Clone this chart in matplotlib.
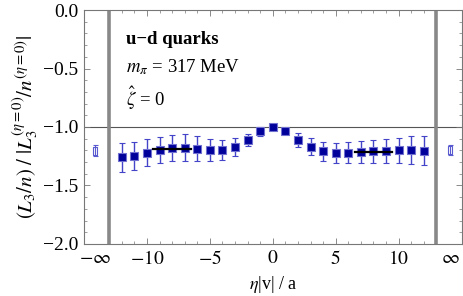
import matplotlib
matplotlib.use("Agg")
import matplotlib.pyplot as plt
import numpy as np

plt.rcParams['font.family'] = ['Liberation Serif', 'DejaVu Serif']
plt.rcParams['mathtext.fontset'] = 'stix'

# data
eta = [-12, -11, -10, -9, -8, -7, -6, -5, -4, -3, -2, -1, 0, 1, 2, 3, 4, 5, 6, 7, 8, 9, 10, 11, 12]
vals = [-1.259, -1.248, -1.220, -1.197, -1.180, -1.176, -1.185, -1.197, -1.197, -1.171, -1.111, -1.037,
        -1.000, -1.037, -1.110, -1.168, -1.208, -1.219, -1.219, -1.211, -1.208, -1.208, -1.200, -1.197, -1.202]
errs = [0.125, 0.120, 0.115, 0.110, 0.110, 0.112, 0.104, 0.095, 0.085, 0.074, 0.052, 0.040,
        0.012, 0.025, 0.057, 0.071, 0.080, 0.085, 0.092, 0.095, 0.100, 0.102, 0.106, 0.118, 0.126]
inf_pos = [-14.1, 14.1]
inf_vals = [-1.202, -1.197]
inf_errs = [0.046, 0.042]
fit_left_x = [-9.5, -6.5]
fit_left_y = -1.185
fit_right_x = [6.5, 9.5]
fit_right_y = -1.213
cut_lines = [-13, 13]
xtick_pos = [-14.1, -10, -5, 0, 5, 10, 14.1]
xtick_labels = ['$-\\infty$', '$-10$', '$-5$', '$0$', '$5$', '$10$', '$\\infty$']
ytick_pos = [0.0, -0.5, -1.0, -1.5, -2.0]
ytick_labels = ['0.0', '\u22120.5', '\u22121.0', '\u22121.5', '\u22122.0']

fig = plt.figure(figsize=(4.63, 2.96), dpi=100)
ax = fig.add_axes([0.1814, 0.1757, 0.8155, 0.7905])

ax.set_xlim(-15, 15)
ax.set_ylim(-2.0, 0.0)

ax.axhline(-1.0, color='#555555', lw=0.8, zorder=1)
for c in cut_lines:
    ax.axvline(c, color='#888888', lw=2.6, zorder=1)

ax.errorbar(eta, vals, yerr=errs, fmt='s', color='#00009a', ms=5.6, mec='#7070d0', mew=0.8,
            ecolor='#4444c8', elinewidth=1.0, capsize=2.3, capthick=1.0, zorder=3)
rect_marker = [(-0.5, -1), (0.5, -1), (0.5, 1), (-0.5, 1), (-0.5, -1)]
ax.errorbar(inf_pos, inf_vals, yerr=inf_errs, fmt='none',
            ecolor='#5a5ad0', elinewidth=0.8, capsize=1.8, capthick=0.8, zorder=3)
ax.plot(inf_pos, inf_vals, linestyle='none', marker=rect_marker, mfc='none', mec='#5a5ad0',
        ms=5.5, mew=0.8, zorder=3)

ax.plot(fit_left_x, [fit_left_y, fit_left_y], color='black', lw=1.6, zorder=4)
ax.plot(fit_right_x, [fit_right_y, fit_right_y], color='black', lw=1.6, zorder=4)

ax.set_xticks(xtick_pos)
ax.set_xticklabels(xtick_labels, fontsize=14)
ax.set_xticks(np.arange(-12, 13, 1), minor=True)
ax.set_yticks(ytick_pos)
ax.set_yticklabels(ytick_labels, fontsize=14)
ax.set_yticks(np.arange(-2.0, 0.001, 0.1), minor=True)
ax.tick_params(which='both', direction='in', top=True, right=True, color='#777777')
ax.tick_params(which='major', length=4, width=0.6, pad=4)
ax.tick_params(which='minor', length=2.2, width=0.5)
for i in (0, -1):
    t = ax.xaxis.get_major_ticks()[i]
    t.tick1line.set_visible(False)
    t.tick2line.set_visible(False)
for s in ax.spines.values():
    s.set_color('#777777')
    s.set_linewidth(0.8)

ax.set_xlabel('$\\eta$|v| / a', fontsize=13, labelpad=5)
ax.set_ylabel('$(L_3/n)\\ /\\ |L_3^{(\\eta=0)}/n^{(\\eta=0)}|$', fontsize=15, labelpad=2)

ax.text(-11.7, -0.25, 'u\u2212d quarks', fontsize=13.5, fontweight='bold', va='center', ha='left')
ax.text(-11.7, -0.49, '$m_\\pi$ = 317 MeV', fontsize=13.5, va='center', ha='left')
ax.text(-11.7, -0.75, '$\\hat{\\zeta}$ = 0', fontsize=13.5, va='center', ha='left')

fig.savefig('out.png', dpi=100)
